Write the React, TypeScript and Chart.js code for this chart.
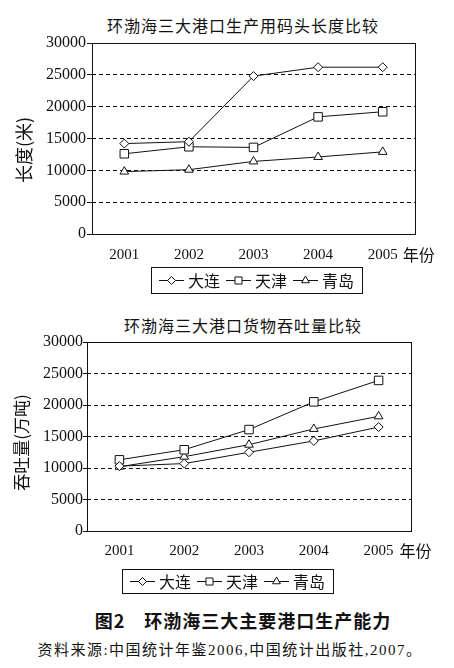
import React, { useEffect, useRef } from "react";
import { Chart, registerables } from "chart.js";
import { drawPoint } from "chart.js/helpers";

Chart.register(...registerables);

// ---------- data ----------
const years = ["2001", "2002", "2003", "2004", "2005"];
const seriesNames = ["大连", "天津", "青岛"];
const pointStyles = ["rectRot", "rect", "triangle"];

// 生产用码头长度 (米)
const quayDalian = [14200, 14500, 24800, 26200, 26200];
const quayTianjin = [12600, 13700, 13600, 18400, 19200];
const quayQingdao = [9800, 10100, 11400, 12100, 12900];

// 货物吞吐量 (万吨)
const tputDalian = [10300, 10700, 12500, 14300, 16500];
const tputTianjin = [11300, 12900, 16100, 20500, 23900];
const tputQingdao = [10200, 11800, 13700, 16200, 18200];

const yMin = 0;
const yMax = 30000;
const yStep = 5000;

const chart1Title = "环渤海三大港口生产用码头长度比较";
const chart1YTitle = "长度(米)";
const chart2Title = "环渤海三大港口货物吞吐量比较";
const chart2YTitle = "吞吐量(万吨)";
const xUnit = "年份";
const caption = "图2　环渤海三大主要港口生产能力";
const source = "资料来源:中国统计年鉴2006,中国统计出版社,2007。";

// ---------- styles ----------
const INK = "#111";
const CJK = '"Noto Sans CJK SC", sans-serif';
const NUM = '"Liberation Serif", "Noto Sans CJK SC", serif';
const pointRadii = [4.5, 6, 5];
const legendRadii = [4, 5, 4.5];

const framePlugin = {
  id: "frameLegend",
  afterDraw(chart: any, _args: any, opts: any) {
    const { ctx, chartArea: a } = chart;
    ctx.save();
    // plot frame
    ctx.strokeStyle = INK;
    ctx.lineWidth = 1;
    ctx.setLineDash([]);
    ctx.strokeRect(Math.round(a.left) + 0.5, Math.round(a.top) + 0.5, Math.round(a.right - a.left), Math.round(a.bottom - a.top));

    // y-axis title (rotated)
    ctx.save();
    ctx.translate(opts.yTitleX, opts.yTitleY);
    ctx.rotate(-Math.PI / 2);
    ctx.font = `${opts.yTitleSize}px ${CJK}`;
    ctx.fillStyle = INK;
    ctx.textAlign = "center";
    ctx.textBaseline = "middle";
    ctx.fillText(opts.yTitle, 0, 0);
    ctx.restore();

    // unit label after last category
    const xs = chart.scales.x;
    const lastX = xs.getPixelForValue(years.length - 1);
    ctx.font = `16px ${CJK}`;
    ctx.fillStyle = INK;
    ctx.textAlign = "left";
    ctx.textBaseline = "middle";
    ctx.fillText(opts.unit, lastX + opts.unitDx, a.bottom + opts.unitDy);

    // legend box
    const items = chart.data.datasets.map((ds: any, i: number) => ({
      label: ds.label,
      style: ds.pointStyle,
      r: legendRadii[i],
    }));
    const symW = 25, symGap = 4, itemGap = 6, padX = 8;
    ctx.font = `16px ${CJK}`;
    const widths = items.map((it: any) => ctx.measureText(it.label).width);
    let total = padX * 2 + itemGap * (items.length - 1);
    widths.forEach((w: number) => (total += symW + symGap + w));
    const left = Math.round(opts.cx - total / 2);
    const top = opts.top;
    const h = opts.height;
    ctx.strokeStyle = INK;
    ctx.strokeRect(left + 0.5, top + 0.5, Math.round(total), h);
    let x = left + padX;
    const midY = top + h / 2 + 0.5;
    items.forEach((it: any, i: number) => {
      ctx.strokeStyle = INK;
      ctx.beginPath();
      ctx.moveTo(x, midY);
      ctx.lineTo(x + symW, midY);
      ctx.stroke();
      ctx.fillStyle = "#fff";
      drawPoint(ctx, { pointStyle: it.style, radius: it.r, rotation: 0, borderWidth: 1 }, x + symW / 2, midY);
      x += symW + symGap;
      ctx.fillStyle = INK;
      ctx.textAlign = "left";
      ctx.textBaseline = "middle";
      ctx.fillText(it.label, x, midY);
      x += widths[i] + itemGap;
    });
    ctx.restore();
  },
};

type PanelProps = {
  series: number[][];
  yTitle: string;
  yTitleX: number;
  yTitleY: number;
  yTitleSize: number;
  yWidth: number;
  tickLen: number;
  tickPad: number;
  padTop: number;
  padRight: number;
  padBottom: number;
  xLabelPad: number;
  legendCx: number;
  legendTop: number;
  legendH: number;
  unitDx: number;
  unitDy: number;
  height: number;
};

function Panel(p: PanelProps) {
  const ref = useRef<HTMLCanvasElement | null>(null);
  useEffect(() => {
    if (!ref.current) return;
    const chart = new Chart(ref.current, {
      type: "line",
      data: {
        labels: years,
        datasets: p.series.map((vals, i) => ({
          label: seriesNames[i],
          data: vals,
          borderColor: INK,
          borderWidth: 1,
          backgroundColor: "#fff",
          pointStyle: pointStyles[i] as any,
          pointRadius: pointRadii[i],
          pointBorderWidth: 1,
          pointBackgroundColor: "#fff",
          pointBorderColor: INK,
          tension: 0,
          fill: false,
        })),
      },
      options: {
        animation: false,
        responsive: false,
        maintainAspectRatio: false,
        devicePixelRatio: 1,
        layout: { padding: { top: p.padTop, left: 0, right: p.padRight, bottom: p.padBottom } },
        plugins: {
          legend: { display: false },
          title: { display: false },
          tooltip: { enabled: false },
          frameLegend: {
            cx: p.legendCx,
            top: p.legendTop,
            height: p.legendH,
            unit: xUnit,
            unitDx: p.unitDx,
            unitDy: p.unitDy,
            yTitle: p.yTitle,
            yTitleX: p.yTitleX,
            yTitleY: p.yTitleY,
            yTitleSize: p.yTitleSize,
          },
        } as any,
        scales: {
          x: {
            type: "category",
            offset: true,
            grid: { display: false, drawTicks: false },
            border: { display: false },
            ticks: { color: INK, font: { family: NUM, size: 15 }, padding: p.xLabelPad, maxRotation: 0, autoSkip: false },
            afterFit: (s: any) => {
              s.height = 30;
            },
          },
          y: {
            min: yMin,
            max: yMax,
            ticks: {
              stepSize: yStep,
              color: INK,
              font: { family: NUM, size: 16 },
              padding: p.tickPad,
              callback: (v: any) => String(v),
            },
            grid: {
              drawTicks: true,
              tickLength: p.tickLen,
              tickColor: INK,
              tickWidth: 1,
              lineWidth: 1,
              color: (c: any) => (c.tick && (c.tick.value === yMin || c.tick.value === yMax) ? "rgba(0,0,0,0)" : INK),
            },
            border: { display: false, dash: [4, 3] },
            title: { display: false },
            afterFit: (s: any) => {
              s.width = p.yWidth;
            },
          },
        },
      } as any,
      plugins: [framePlugin as any],
    });
    return () => chart.destroy();
  }, []);
  return <canvas ref={ref} width={454} height={p.height} style={{ width: 454, height: p.height, display: "block" }} />;
}

const textBase: React.CSSProperties = {
  position: "absolute",
  whiteSpace: "nowrap",
  transform: "translateX(-50%)",
  color: INK,
  lineHeight: "20px",
};

export default function App() {
  return (
    <div style={{ position: "absolute", left: 0, top: 0, width: 454, height: 668, background: "#fff", overflow: "hidden" }}>
      <div style={{ ...textBase, left: 243, top: 15, fontFamily: CJK, fontSize: 16, letterSpacing: 1 }}>{chart1Title}</div>
      <div style={{ position: "absolute", left: 0, top: 0 }}>
        <Panel
          series={[quayDalian, quayTianjin, quayQingdao]}
          yTitle={chart1YTitle}
          yTitleX={24}
          yTitleY={150}
          yTitleSize={18}
          yWidth={92}
          tickLen={5}
          tickPad={1}
          padTop={43}
          padRight={39}
          padBottom={36}
          xLabelPad={12}
          legendCx={257}
          legendTop={267}
          legendH={26}
          unitDx={20}
          unitDy={21}
          height={300}
        />
      </div>
      <div style={{ ...textBase, left: 243, top: 315, fontFamily: CJK, fontSize: 16, letterSpacing: 1 }}>{chart2Title}</div>
      <div style={{ position: "absolute", left: 0, top: 300 }}>
        <Panel
          series={[tputDalian, tputTianjin, tputQingdao]}
          yTitle={chart2YTitle}
          yTitleX={21.5}
          yTitleY={142.5}
          yTitleSize={17}
          yWidth={87}
          tickLen={4}
          tickPad={0}
          padTop={42}
          padRight={43}
          padBottom={39}
          xLabelPad={11}
          legendCx={228}
          legendTop={269}
          legendH={24}
          unitDx={21}
          unitDy={20}
          height={300}
        />
      </div>
      <div style={{ ...textBase, left: 243, top: 610, fontFamily: CJK, fontSize: 18, fontWeight: 700, letterSpacing: 1 }}>{caption}</div>
      <div style={{ ...textBase, left: 230, top: 640, fontFamily: NUM, fontSize: 15, letterSpacing: 1.5 }}>{source}</div>
    </div>
  );
}
